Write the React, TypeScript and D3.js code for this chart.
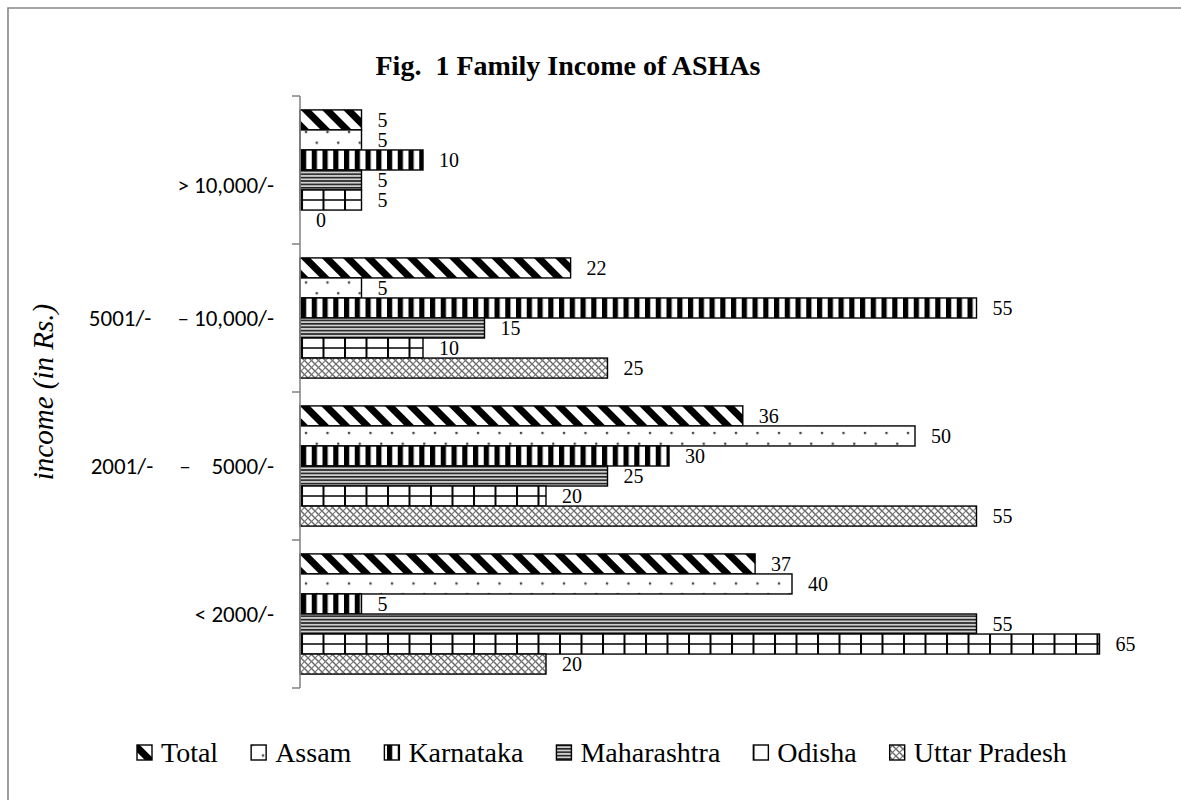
import React, { useEffect, useRef } from 'react';
import * as d3 from 'd3';

const categories = ['> 10,000/-', '5001/-     – 10,000/-', '2001/-     –    5000/-', '< 2000/-'];
const seriesNames = ['Total', 'Assam', 'Karnataka', 'Maharashtra', 'Odisha', 'Uttar Pradesh'];
const total = [5, 22, 36, 37];
const assam = [5, 5, 50, 40];
const karnataka = [10, 55, 30, 5];
const maharashtra = [5, 15, 25, 55];
const odisha = [5, 10, 20, 65];
const uttarPradesh = [0, 25, 55, 20];
const titleText = 'Fig.  1 Family Income of ASHAs';
const axisTitle = 'income (in Rs.)';

const seriesValues = [total, assam, karnataka, maharashtra, odisha, uttarPradesh];
const patIds = ['p-total', 'p-assam', 'p-karn', 'p-maha', 'p-odis', 'p-up'];

export default function App() {
  const ref = useRef<SVGSVGElement>(null);
  useEffect(() => {
    const svg = d3.select(ref.current);
    svg.selectAll('*').remove();
    const W = 1181, H = 800;
    const serif = "'Liberation Serif', 'Times New Roman', serif";
    const sans = "Carlito, Lato, 'Open Sans', sans-serif";
    const defs = svg.append('defs');

    // Total: "\" stripes
    const pT = defs.append('pattern').attr('id', 'p-total').attr('patternUnits', 'userSpaceOnUse')
      .attr('width', 15).attr('height', 15).attr('patternTransform', 'rotate(-45)');
    pT.append('rect').attr('width', 15).attr('height', 15).attr('fill', '#fff');
    pT.append('rect').attr('x', 0).attr('width', 7).attr('height', 15).attr('fill', '#000');

    // Assam: staggered dots
    const pA = defs.append('pattern').attr('id', 'p-assam').attr('patternUnits', 'userSpaceOnUse')
      .attr('width', 21.5).attr('height', 21.5);
    pA.append('rect').attr('width', 21.5).attr('height', 21.5).attr('fill', '#fff');
    pA.append('circle').attr('cx', 5).attr('cy', 3).attr('r', 1.3).attr('fill', '#444');
    pA.append('circle').attr('cx', 15.75).attr('cy', 13.75).attr('r', 1.3).attr('fill', '#444');

    // Karnataka: vertical stripes
    const pK = defs.append('pattern').attr('id', 'p-karn').attr('patternUnits', 'userSpaceOnUse')
      .attr('width', 10.75).attr('height', 10);
    pK.append('rect').attr('width', 10.75).attr('height', 10).attr('fill', '#fff');
    pK.append('rect').attr('width', 5.2).attr('height', 10).attr('fill', '#000');

    // Maharashtra: horizontal fine lines
    const pM = defs.append('pattern').attr('id', 'p-maha').attr('patternUnits', 'userSpaceOnUse')
      .attr('width', 10).attr('height', 3.4);
    pM.append('rect').attr('width', 10).attr('height', 3.4).attr('fill', '#d0d0d0');
    pM.append('rect').attr('width', 10).attr('height', 1.6).attr('fill', '#222');

    // Odisha: vertical lines (plus mid line drawn per bar)
    const pO = defs.append('pattern').attr('id', 'p-odis').attr('patternUnits', 'userSpaceOnUse')
      .attr('width', 21.5).attr('height', 10);
    pO.append('rect').attr('width', 21.5).attr('height', 10).attr('fill', '#fff');
    pO.append('rect').attr('x', 0).attr('width', 2).attr('height', 10).attr('fill', '#000');

    // Uttar Pradesh: weave / crosshatch
    const pU = defs.append('pattern').attr('id', 'p-up').attr('patternUnits', 'userSpaceOnUse')
      .attr('width', 7).attr('height', 7);
    pU.append('rect').attr('width', 7).attr('height', 7).attr('fill', '#fff');
    pU.append('path').attr('d', 'M0,0 L7,7 M-1,6 L1,8 M6,-1 L8,1').attr('stroke', '#666').attr('stroke-width', 1.4);
    pU.append('path').attr('d', 'M0,7 L7,0 M-1,1 L1,-1 M6,8 L8,6').attr('stroke', '#777').attr('stroke-width', 1.2);

    svg.append('rect').attr('width', W).attr('height', H).attr('fill', '#fff');
    svg.append('path').attr('d', `M8,${H + 10} V8 H${W + 10}`).attr('fill', 'none')
      .attr('stroke', '#878787').attr('stroke-width', 1.6);

    const x = d3.scaleLinear().domain([0, 70]).range([300, 1161]);
    const y0 = d3.scaleBand<string>().domain(categories).range([96, 688])
      .paddingInner(0.188).paddingOuter(0.094);
    const y1 = d3.scaleBand<string>().domain(seriesNames).range([0, y0.bandwidth()]);

    // title
    svg.append('text').attr('x', 568).attr('y', 75).attr('text-anchor', 'middle')
      .attr('font-family', serif).attr('font-weight', 'bold').attr('font-size', 28)
      .style('white-space', 'pre').text(titleText);

    // bars
    categories.forEach((c, i) => {
      seriesNames.forEach((s, j) => {
        const v = seriesValues[j][i];
        const by = (y0(c) as number) + (y1(s) as number);
        const bh = y1.bandwidth();
        if (v > 0) {
          svg.append('rect').attr('x', x(0)).attr('y', by).attr('width', x(v) - x(0)).attr('height', bh)
            .attr('fill', `url(#${patIds[j]})`).attr('stroke', '#000').attr('stroke-width', 1.4);
          if (s === 'Odisha') {
            svg.append('line').attr('x1', x(0)).attr('x2', x(v)).attr('y1', by + bh / 2).attr('y2', by + bh / 2)
              .attr('stroke', '#000').attr('stroke-width', 1.4);
          }
        }
        svg.append('text').attr('x', x(v) + 16).attr('y', by + bh / 2 + 7)
          .attr('font-family', serif).attr('font-size', 20).attr('fill', '#000').text(String(v));
      });
    });

    // axis
    const axisColor = '#878787';
    const [r0, r1] = y0.range();
    svg.append('line').attr('x1', x(0)).attr('x2', x(0)).attr('y1', r0).attr('y2', r1)
      .attr('stroke', axisColor).attr('stroke-width', 1.6);
    const step = y0.step();
    d3.range(categories.length + 1).forEach(k => {
      const ty = r0 + k * step;
      svg.append('line').attr('x1', x(0) - 8).attr('x2', x(0)).attr('y1', ty).attr('y2', ty)
        .attr('stroke', axisColor).attr('stroke-width', 1.6);
    });
    categories.forEach((c, i) => {
      const dy = i === 0 ? 15 : 0;
      svg.append('text').attr('x', 274).attr('y', (y0(c) as number) + y0.bandwidth() / 2 + 8 + dy)
        .attr('text-anchor', 'end').attr('font-family', sans).attr('font-size', 23)
        .style('white-space', 'pre').text(c);
    });

    // axis title
    svg.append('text').attr('transform', `translate(53,${(r0 + r1) / 2}) rotate(-90)`)
      .attr('text-anchor', 'middle').attr('font-family', serif).attr('font-style', 'italic')
      .attr('font-size', 29).text(axisTitle);

    // legend
    const lg = svg.append('g');
    let lx = 137;
    const ly = 762;
    seriesNames.forEach((s, j) => {
      lg.append('rect').attr('x', lx).attr('y', ly - 17).attr('width', 15).attr('height', 15)
        .attr('fill', `url(#${patIds[j]})`).attr('stroke', '#000').attr('stroke-width', 1.4);
      const t = lg.append('text').attr('x', lx + 24).attr('y', ly)
        .attr('font-family', serif).attr('font-size', 28).text(s);
      const w = (t.node() as SVGTextElement).getComputedTextLength();
      lx = lx + 24 + w + 33;
    });
  }, []);
  return <svg ref={ref} width={1181} height={800} style={{ position: 'absolute', left: 0, top: 0 }} />;
}
